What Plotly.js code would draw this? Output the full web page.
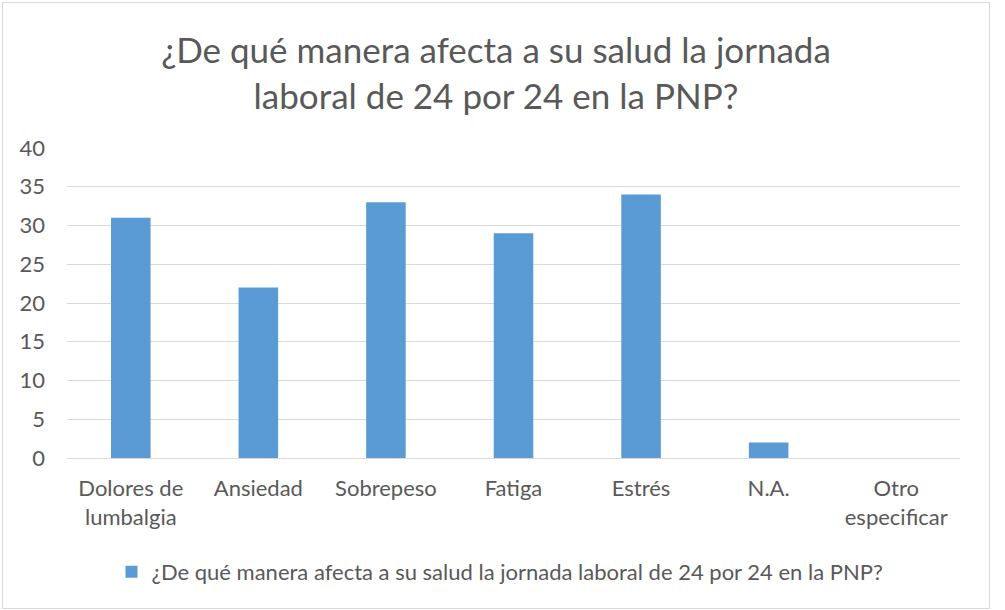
<!DOCTYPE html>
<html>
<head>
<meta charset="utf-8">
<script src="https://cdn.plot.ly/plotly-3.0.1.min.js"></script>
<style>html,body{margin:0;padding:0;background:#fff;}</style>
</head>
<body>
<div id="chart" style="width:1005px;height:610px;"></div>
<script>
const categories = ["Dolores de<br>lumbalgia", "Ansiedad", "Sobrepeso", "Fatiga", "Estrés", "N.A.", "Otro<br>especificar"];
const values = [31, 22, 33, 29, 34, 2, 0];
const seriesName = "¿De qué manera afecta a su salud la jornada laboral de 24 por 24 en la PNP?";
const titleText = "¿De qué manera afecta a su salud la jornada<br>laboral de 24 por 24 en la PNP?";
const yTicks = [0, 5, 10, 15, 20, 25, 30, 35, 40];

const W = 1005, H = 610;
const L = 67, R = 960, T = 148, B = 458;
const pw = R - L, ph = B - T;
const px = v => (v - L) / pw;
const py = v => (B - v) / ph;

const font = "Lato, 'Open Sans', sans-serif";

Plotly.newPlot('chart', [{
  type: 'bar',
  x: categories,
  y: values,
  name: seriesName,
  marker: {color: '#5B9BD5'},
  showlegend: true
}], {
  width: W, height: H,
  margin: {l: L, r: W - R, t: T, b: H - B, pad: 0},
  paper_bgcolor: '#ffffff',
  plot_bgcolor: '#ffffff',
  font: {family: font, color: '#595959', size: 22},
  bargap: 0.69,
  title: {
    text: titleText,
    font: {family: font, size: 35, color: '#595959'},
    x: 496 / W, xanchor: 'center',
    y: 1 - 63 / H, yanchor: 'middle',
    xref: 'container', yref: 'container'
  },
  xaxis: {
    type: 'category',
    showgrid: false,
    showline: true, linecolor: '#D9D9D9', linewidth: 1,
    ticks: '', ticklabelstandoff: 11,
    tickfont: {family: font, size: 22, color: '#595959'},
    fixedrange: true
  },
  yaxis: {
    range: [0, 40],
    tickvals: yTicks,
    ticktext: yTicks.map(String),
    showgrid: true, gridcolor: '#D9D9D9', gridwidth: 1,
    zeroline: false, showline: false,
    ticks: '', ticklabelstandoff: 21,
    tickfont: {family: font, size: 22, color: '#595959'},
    fixedrange: true
  },
  legend: {
    orientation: 'h',
    xref: 'container', yref: 'container',
    x: 500 / W, xanchor: 'center',
    y: 1 - 572 / H, yanchor: 'middle',
    font: {family: font, size: 22, color: '#595959'},
    itemwidth: 30
  },
  shapes: [{
    type: 'rect', xref: 'paper', yref: 'paper',
    x0: px(2.5), x1: px(989.5), y0: py(608.5), y1: py(2.5),
    line: {color: '#D9D9D9', width: 1}, fillcolor: 'rgba(0,0,0,0)', layer: 'below'
  }]
}, {displayModeBar: false, staticPlot: true});
</script>
</body>
</html>
